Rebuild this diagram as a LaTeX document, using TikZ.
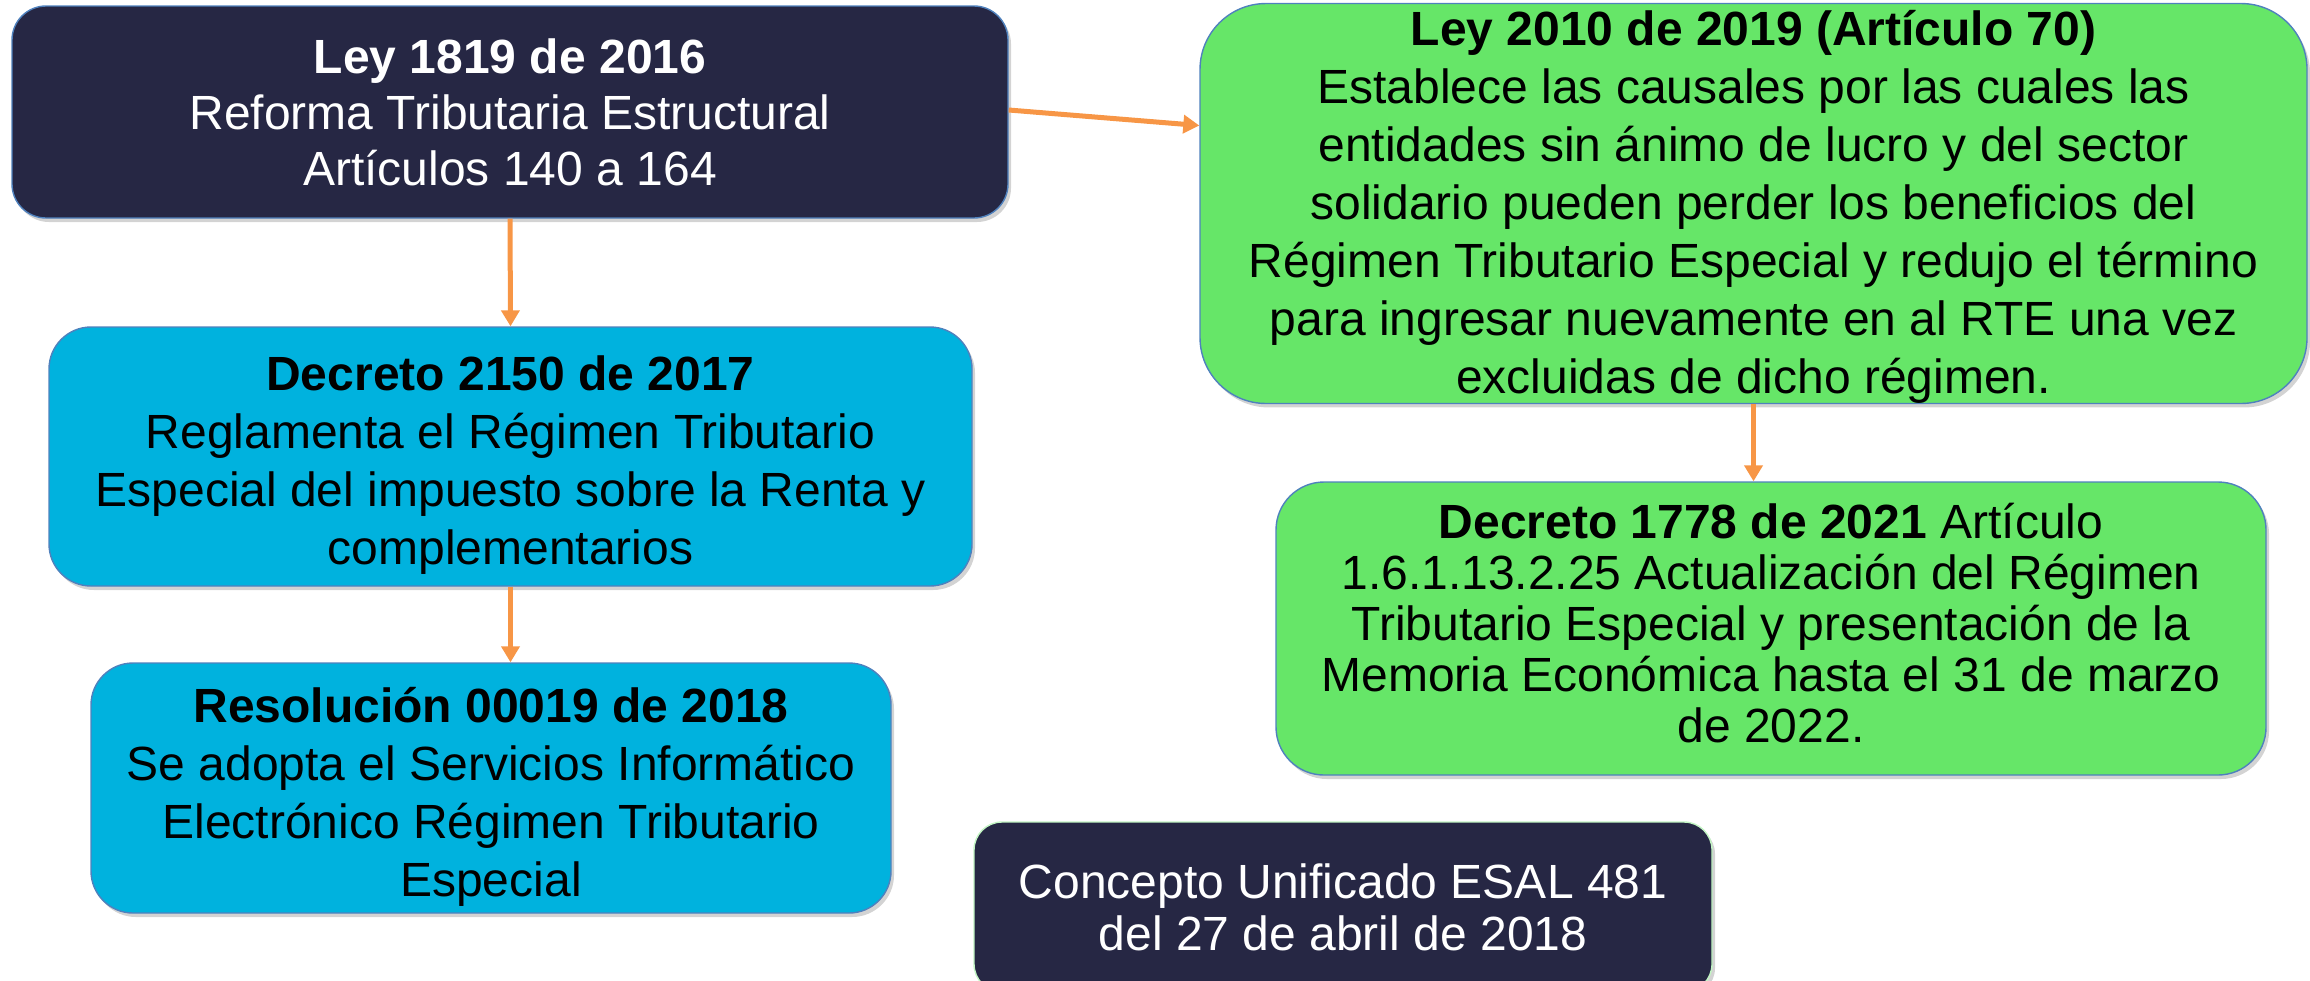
\documentclass[tikz,border=0pt]{standalone}
\usepackage{fontspec}
\setmainfont{Liberation Sans}
\usepackage{tikz}
\usetikzlibrary{arrows.meta,shadows}

\definecolor{navy}{RGB}{38,39,68}
\definecolor{celeste}{RGB}{0,178,222}
\definecolor{verde}{RGB}{102,230,104}
\definecolor{naranja}{RGB}{247,150,70}
\definecolor{borde}{RGB}{79,129,189}

\begin{document}
\begin{tikzpicture}[x=0.5pt, y=-0.5pt,
    caja/.style={draw=borde, line width=0.7pt, align=center, inner sep=0pt,
        font=\fontsize{24}{28}\selectfont,
        drop shadow={shadow xshift=1.5pt, shadow yshift=-2pt, opacity=0.35}},
    flecha/.style={draw=naranja, line width=2.5pt, -{Triangle[length=8pt,width=9pt]}}]
                    \useasboundingbox (0,0) rectangle (2310,980);
                    \clip (0,0) rectangle (2310,980);
                    % left column
                    \node[caja, fill=navy, text=white, rounded corners=17pt,
                        minimum width=498pt, minimum height=106pt] (ley1819) at (510,112)
                        {\textbf{Ley 1819 de 2016}\\Reforma Tributaria Estructural\\Artículos 140 a 164};
                    \node[caja, fill=celeste, rounded corners=21pt, font=\fontsize{24}{29}\selectfont,
                        minimum width=461.5pt, minimum height=129.5pt] (dec2150) at (510.5,456.5)
                        {\rule{0pt}{26pt}\textbf{Decreto 2150 de 2017}\\Reglamenta el Régimen Tributario\\Especial del impuesto sobre la Renta y\\complementarios};
                    \node[caja, fill=celeste, rounded corners=21pt, font=\fontsize{24}{29}\selectfont,
                        minimum width=400pt, minimum height=125pt] (res19) at (491,788)
                        {\rule{0pt}{26pt}\textbf{Resolución 00019 de 2018}\\Se adopta el Servicios Informático\\Electrónico Régimen Tributario\\Especial};
                    % right column
                    \node[caja, fill=verde, rounded corners=33pt, font=\fontsize{24}{29}\selectfont,
                        minimum width=553.5pt, minimum height=197.5pt] (ley2010) at (1753.5,203.5)
                        {\rule{0pt}{21pt}\textbf{Ley 2010 de 2019 (Artículo 70)}\\Establece las causales por las cuales las\\entidades sin ánimo de lucro y del sector\\solidario pueden perder los beneficios del\\Régimen Tributario Especial y redujo el término\\para ingresar nuevamente en al RTE una vez\\excluidas de dicho régimen.};
                    \node[caja, fill=verde, rounded corners=24pt, font=\fontsize{24}{25.5}\selectfont,
                        minimum width=495pt, minimum height=146.5pt] (dec1778) at (1771,628.5)
                        {\textbf{Decreto 1778 de 2021} Artículo\\1.6.1.13.2.25 Actualización del Régimen\\Tributario Especial y presentación de la\\Memoria Económica hasta el 31 de marzo\\de 2022.\rule[-6pt]{0pt}{6pt}};
                    \node[caja, draw=verde!40, fill=navy, text=white, rounded corners=14pt,
                        font=\fontsize{24}{26}\selectfont,
                        minimum width=369pt, minimum height=85pt] (esal) at (1343,907)
                        {Concepto Unificado ESAL 481\\del 27 de abril de 2018};
                    % connectors
                    \draw[flecha] ([yshift=1pt]ley1819.east) -- ([yshift=39pt]ley2010.west);
                    \draw[flecha] (ley1819.south) -- (dec2150.north);
                    \draw[flecha] (dec2150.south) -- (dec2150.south |- res19.north);
                    \draw[flecha] (ley2010.south) -- (ley2010.south |- dec1778.north);
                \end{tikzpicture}
\end{document}
